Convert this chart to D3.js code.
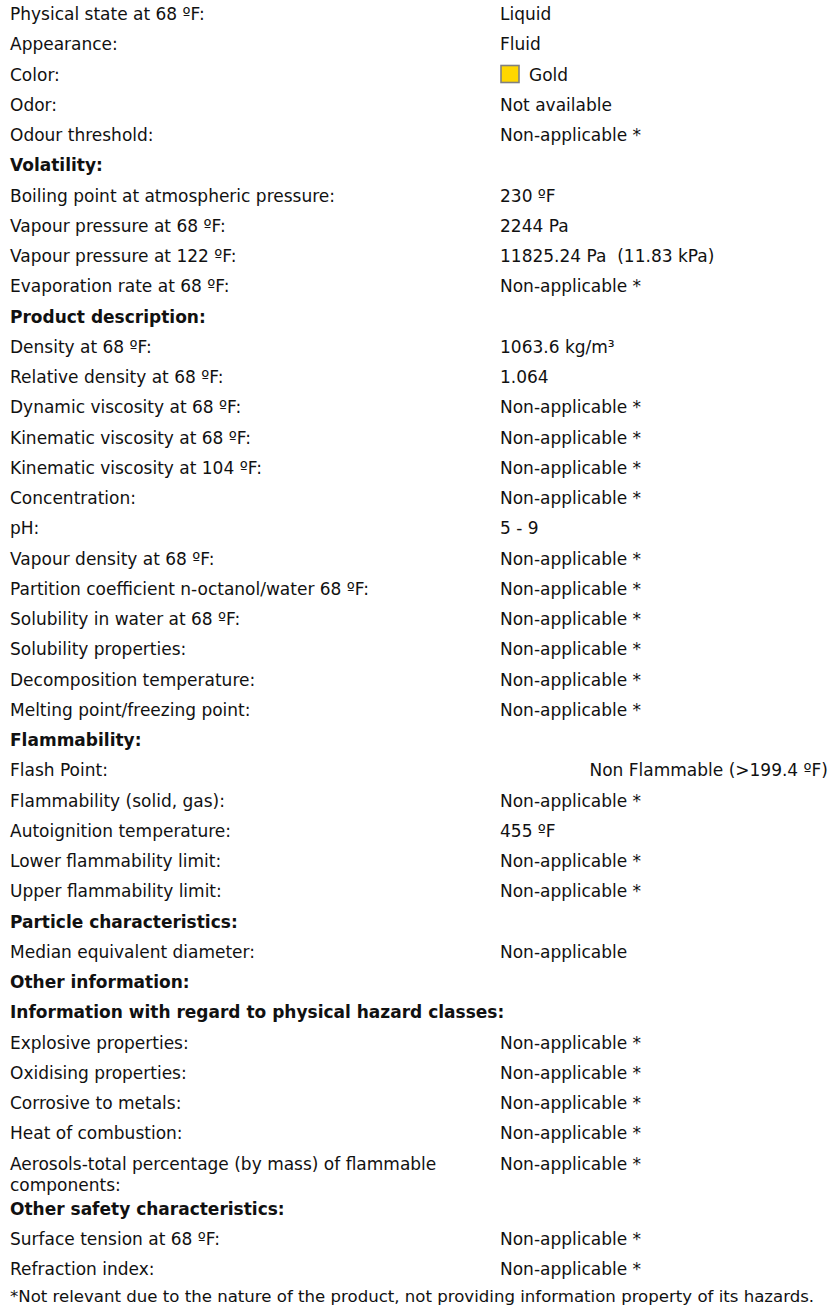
<!DOCTYPE html>
<html>
<head>
<meta charset="utf-8">
<script src="https://cdn.jsdelivr.net/npm/d3@7"></script>
<style>
  body { margin: 0; background: #fff; }
</style>
</head>
<body>
<div id="sheet"></div>
<script>
// rows of the physical / chemical properties sheet
const labels = [
  "Physical state at 68 ºF:",
  "Appearance:",
  "Color:",
  "Odor:",
  "Odour threshold:",
  "Volatility:",
  "Boiling point at atmospheric pressure:",
  "Vapour pressure at 68 ºF:",
  "Vapour pressure at 122 ºF:",
  "Evaporation rate at 68 ºF:",
  "Product description:",
  "Density at 68 ºF:",
  "Relative density at 68 ºF:",
  "Dynamic viscosity at 68 ºF:",
  "Kinematic viscosity at 68 ºF:",
  "Kinematic viscosity at 104 ºF:",
  "Concentration:",
  "pH:",
  "Vapour density at 68 ºF:",
  "Partition coefficient n-octanol/water 68 ºF:",
  "Solubility in water at 68 ºF:",
  "Solubility properties:",
  "Decomposition temperature:",
  "Melting point/freezing point:",
  "Flammability:",
  "Flash Point:",
  "Flammability (solid, gas):",
  "Autoignition temperature:",
  "Lower flammability limit:",
  "Upper flammability limit:",
  "Particle characteristics:",
  "Median equivalent diameter:",
  "Other information:",
  "Information with regard to physical hazard classes:",
  "Explosive properties:",
  "Oxidising properties:",
  "Corrosive to metals:",
  "Heat of combustion:",
  "Aerosols-total percentage (by mass) of flammable components:",
  "Other safety characteristics:",
  "Surface tension at 68 ºF:",
  "Refraction index:"
];

const NA = "Non-applicable *";
const values = [
  "Liquid", "Fluid", "Gold", "Not available", NA,
  null,
  "230 ºF", "2244 Pa", "11825.24 Pa  (11.83 kPa)", NA,
  null,
  "1063.6 kg/m³", "1.064", NA, NA, NA, NA, "5 - 9", NA, NA, NA, NA, NA, NA,
  null,
  "Non Flammable (>199.4 ºF)", NA, "455 ºF", NA, NA,
  null,
  "Non-applicable",
  null,
  null,
  NA, NA, NA, NA, NA,
  null,
  NA, NA
];

const headerLabels = [
  "Volatility:",
  "Product description:",
  "Flammability:",
  "Particle characteristics:",
  "Other information:",
  "Information with regard to physical hazard classes:",
  "Other safety characteristics:"
];

// values pushed to the right edge of the sheet
const rightValues = ["Non Flammable (>199.4 ºF)"];

const swatchName = "Gold";
const swatchHex = "#FFD700";

const footnote = "*Not relevant due to the nature of the product, not providing information property of its hazards.";

const width = 833;
const height = 1311;
const fontFamily = "'DejaVu Sans', Verdana, sans-serif";
const fontSize = 17;
const labelX = 10;
const valueX = 500;
const rightX = 828;
const rowStep = 30.25;
const firstBaseline = 20;
const wrapLine = 21;
const footnoteWidth = 805;

const svg = d3.select("#sheet")
  .append("svg")
  .attr("width", width)
  .attr("height", height)
  .style("font-family", fontFamily)
  .style("font-size", `${fontSize}px`)
  .style("fill", "#111");

const rows = labels.map((label, i) => ({
  label,
  value: values[i],
  header: headerLabels.includes(label),
}));

const rowG = svg.selectAll("g.row")
  .data(rows)
  .join("g")
  .attr("class", "row");

const labelText = rowG.append("text")
  .attr("x", labelX)
  .style("font-weight", (d) => (d.header ? "bold" : "normal"));

// wrap the long item labels inside the label column (headers run on)
const maxLabelWidth = valueX - labelX - 30;
labelText.each(function (d) {
  const t = d3.select(this);
  let tspan = t.append("tspan").attr("x", labelX).attr("dy", 0);
  d.lines = 1;
  if (d.header) {
    tspan.text(d.label);
    return;
  }
  let line = [];
  d.label.split(" ").forEach((w) => {
    line.push(w);
    tspan.text(line.join(" "));
    if (tspan.node().getComputedTextLength() > maxLabelWidth && line.length > 1) {
      line.pop();
      tspan.text(line.join(" "));
      line = [w];
      tspan = t.append("tspan").attr("x", labelX).attr("dy", wrapLine).text(w);
      d.lines += 1;
    }
  });
});

// cumulative row units -> baseline through a linear scale
let acc = 0;
rows.forEach((d) => {
  d.unit = acc;
  acc += 1 + 0.5 * (d.lines - 1);
});
const y = d3.scaleLinear()
  .domain([0, 1])
  .range([firstBaseline, firstBaseline + rowStep]);

rowG.attr("transform", (d) => `translate(0, ${y(d.unit)})`);

const valueG = rowG.filter((d) => d.value !== null);

valueG.filter((d) => d.value === swatchName)
  .append("rect")
  .attr("x", valueX + 1)
  .attr("y", -fontSize + 2)
  .attr("width", 18)
  .attr("height", 17)
  .attr("fill", swatchHex)
  .attr("stroke", "#808080")
  .attr("stroke-width", 1.6);

valueG.append("text")
  .attr("x", (d) => {
    if (rightValues.includes(d.value)) return rightX;
    return d.value === swatchName ? valueX + 29 : valueX;
  })
  .attr("text-anchor", (d) => (rightValues.includes(d.value) ? "end" : "start"))
  .attr("xml:space", "preserve")
  .style("white-space", "pre")
  .text((d) => d.value);

const foot = svg.append("text")
  .attr("x", labelX)
  .attr("y", y(acc - 1) + 27)
  .style("font-size", "16px")
  .text(footnote);
// fit the footnote to the width it takes in the sheet
const fw = foot.node().getComputedTextLength();
foot.style("font-size", `${(16 * footnoteWidth) / fw}px`);
</script>
</body>
</html>
